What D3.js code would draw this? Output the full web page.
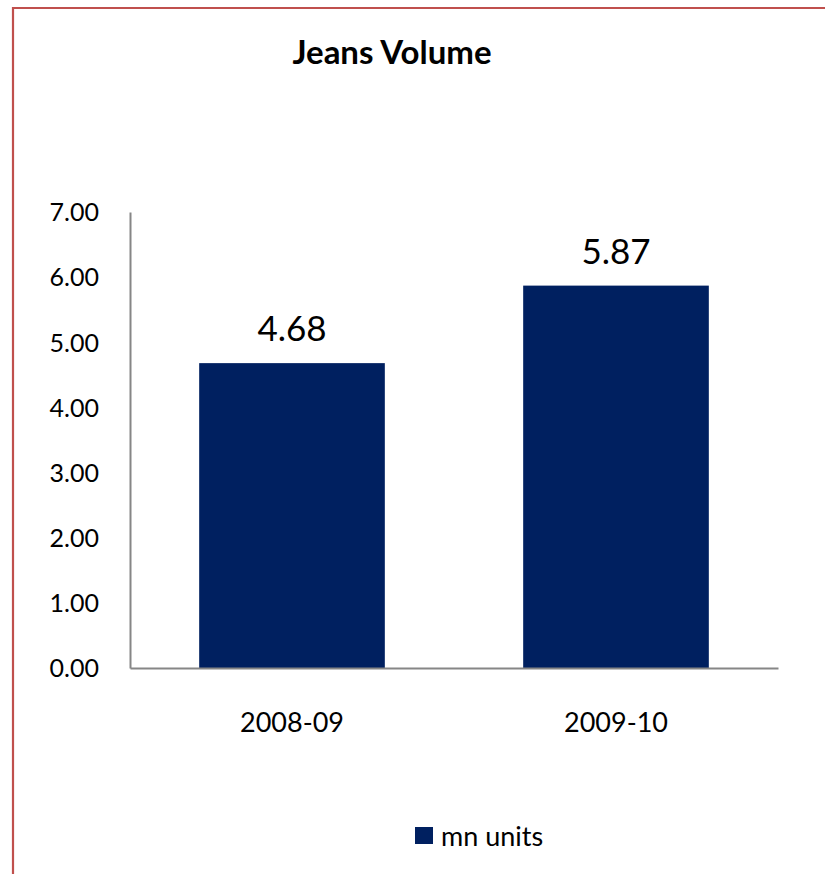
<!DOCTYPE html>
<html>
<head>
<meta charset="utf-8">
<script src="https://cdn.jsdelivr.net/npm/d3@7"></script>
<style>
  html, body { margin: 0; padding: 0; background: #fff; }
  svg { display: block; }
  text { font-family: Lato, "Open Sans", "DejaVu Sans", sans-serif; fill: #000; }
</style>
</head>
<body>
<script>
// Jeans volume, million units per year
const categories = ["2008-09", "2009-10"];
const values = [4.68, 5.87];
const yTicks = [0, 1, 2, 3, 4, 5, 6, 7];
const seriesName = "mn units";
const title = "Jeans Volume";

const W = 825, H = 874;
const svg = d3.select("body").append("svg").attr("width", W).attr("height", H);

// outer chart frame (left and top edges)
svg.append("path")
  .attr("d", `M13,${H} L13,8 L${W},8`)
  .attr("fill", "none")
  .attr("stroke", "#c0504d")
  .attr("stroke-width", 2.2);

const plot = { left: 130, right: 778, top: 212, bottom: 668 };

const x = d3.scaleBand().domain(categories).range([plot.left, plot.right]).paddingInner(0.427).paddingOuter(0.2135);
const y = d3.scaleLinear().domain([0, 7]).range([plot.bottom, plot.top]);

// title
svg.append("text")
  .attr("x", 392).attr("y", 64)
  .attr("text-anchor", "middle")
  .attr("font-size", 33).attr("font-weight", "bold")
  .text(title);

// bars
svg.selectAll("rect.bar").data(values).join("rect")
  .attr("class", "bar")
  .attr("x", (d, i) => x(categories[i]))
  .attr("width", x.bandwidth())
  .attr("y", d => y(d))
  .attr("height", d => y(0) - y(d))
  .attr("fill", "#002060");

// value labels
svg.selectAll("text.val").data(values).join("text")
  .attr("class", "val")
  .attr("x", (d, i) => x(categories[i]) + x.bandwidth() / 2)
  .attr("y", d => y(d) - 22)
  .attr("text-anchor", "middle")
  .attr("font-size", 35)
  .text(d => d.toFixed(2));

// y axis
const yAxis = d3.axisLeft(y).tickValues(yTicks).tickFormat(d3.format(".2f")).tickSize(0).tickPadding(31);
const gy = svg.append("g").attr("transform", `translate(${plot.left},0)`).call(yAxis);
gy.select(".domain").attr("stroke", "#868686").attr("stroke-width", 2);
gy.selectAll("text").attr("font-size", 25).attr("dy", "0.35em")
  .style("font-family", "Lato, 'Open Sans', sans-serif").attr("fill", "#000");

// x axis
const xAxis = d3.axisBottom(x).tickSize(0).tickPadding(45);
const gx = svg.append("g").attr("transform", `translate(0,${plot.bottom})`).call(xAxis);
gx.select(".domain").attr("stroke", "#868686").attr("stroke-width", 2);
gx.selectAll("text").attr("font-size", 27)
  .style("font-family", "Lato, 'Open Sans', sans-serif").attr("fill", "#000");

// legend
const lg = svg.append("g").attr("transform", "translate(415,827)");
lg.append("rect").attr("width", 18).attr("height", 17).attr("fill", "#002060");
lg.append("text").attr("x", 26).attr("y", 19).attr("font-size", 27).text(seriesName);
</script>
</body>
</html>
